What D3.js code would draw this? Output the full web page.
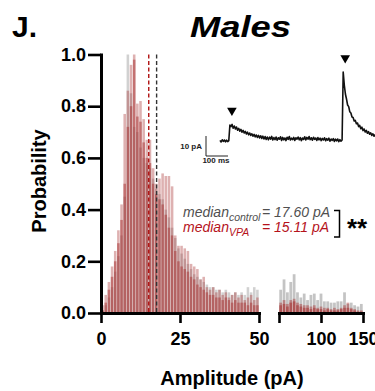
<!DOCTYPE html>
<html><head><meta charset="utf-8">
<script src="https://cdn.jsdelivr.net/npm/d3@7/dist/d3.min.js"></script>
<style>html,body{margin:0;padding:0;background:#fff;overflow:hidden}</style>
</head><body><svg id="c" width="375" height="391"></svg>
<script>
// ---------- DATA ----------
// Left panel: 1 pA bins from 0 to 50 pA (bin start values)
const leftBinWidth = 1;
const leftBinStarts = [0,1,2,3,4,5,6,7,8,9,10,11,12,13,14,15,16,17,18,19,20,21,22,23,24,25,26,27,28,29,30,31,32,33,34,35,36,37,38,39,40,41,42,43,44,45,46,47,48,49];
const controlLeft = [0.01,0.03,0.06,0.10,0.16,0.22,0.30,0.45,1.00,0.85,0.72,0.70,0.64,0.60,0.58,0.56,0.52,0.48,0.46,0.44,0.40,0.37,0.33,0.29,0.25,0.23,0.21,0.19,0.17,0.15,0.14,0.13,0.12,0.11,0.10,0.10,0.09,0.09,0.08,0.09,0.08,0.07,0.08,0.07,0.08,0.07,0.10,0.08,0.10,0.09];
const vpaLeftA = [0.03,0.07,0.12,0.18,0.24,0.32,0.42,0.77,0.86,0.96,1.00,0.81,0.82,0.75,0.67,0.67,0.56,0.50,0.52,0.54,0.53,0.53,0.49,0.30,0.26,0.26,0.25,0.24,0.19,0.18,0.17,0.13,0.14,0.10,0.09,0.10,0.08,0.09,0.07,0.08,0.06,0.07,0.08,0.06,0.07,0.05,0.06,0.07,0.05,0.06];
const vpaLeftB = [0.01,0.04,0.09,0.14,0.20,0.27,0.36,0.50,0.72,0.80,0.98,0.76,0.74,0.66,0.60,0.58,0.50,0.46,0.44,0.42,0.38,0.33,0.30,0.24,0.20,0.18,0.17,0.16,0.14,0.13,0.11,0.10,0.09,0.08,0.07,0.07,0.06,0.06,0.05,0.06,0.05,0.04,0.05,0.04,0.04,0.04,0.03,0.04,0.03,0.03];
// Right panel: 4 pA bins from 50 to 150 pA
const rightBinWidth = 4;
const rightBinStarts = [50,54,58,62,66,70,74,78,82,86,90,94,98,102,106,110,114,118,122,126,130,134,138,142,146];
const controlRight = [0.09,0.13,0.08,0.12,0.15,0.08,0.06,0.075,0.05,0.07,0.075,0.05,0.075,0.045,0.045,0.04,0.04,0.045,0.045,0.08,0.035,0.04,0.03,0.025,0.035];
const vpaRightA = [0.04,0.05,0.035,0.05,0.055,0.04,0.035,0.03,0.03,0.025,0.03,0.02,0.025,0.02,0.02,0.015,0.02,0.015,0.02,0.03,0.04,0.02,0.015,0.01,0.01];
const vpaRightB = [0.03,0.035,0.025,0.04,0.045,0.03,0.025,0.02,0.02,0.015,0.02,0.015,0.015,0.01,0.015,0.01,0.01,0.01,0.015,0.02,0.02,0.015,0.01,0.005,0.005];
// Medians (pA)
const medianControl = 17.60;
const medianVPA = 15.11;
// Tick values
const yTicks = [0,0.2,0.4,0.6,0.8,1.0];
const xTicksLeft = [0,25,50];
const xTicksRight = [50,100,150];
// Inset trace: amplitude (pA) sampled every 5 ms
const traceStep = 5;
const traceAmp = [
  0.3,-0.5,0.6,-0.2,0.5,-0.4,0.4,-0.3,0.2,
  8.0,7.2,8.3,6.4,7.5,6.0,7.0,5.4,6.3,4.9,5.8,4.4,5.3,4.0,4.8,3.5,4.4,3.1,4.0,2.8,3.6,2.4,3.3,2.1,3.0,1.8,2.8,1.5,2.6,1.3,2.4,1.0,
  2.2,0.8,2.0,0.6,1.9,0.9,2.3,0.5,1.7,0.7,2.0,0.4,1.6,0.9,2.1,0.3,1.8,0.6,1.5,0.2,1.9,0.8,2.2,0.5,1.4,0.7,1.8,0.3,1.6,0.9,2.0,0.6,1.7,0.2,1.5,0.8,2.1,0.5,1.8,0.9,2.2,0.7,1.6,0.4,1.9,0.8,1.5,0.3,1.7,0.6,1.4,0.2,1.3,0.5,1.6,0.1,1.2,0.4,1.4,-0.1,1.0,0.3,1.2,-0.2,0.9,0.1,1.0,-0.3,0.7,-0.1,0.5,
  34.5,28.0,23.5,21.0,18.0,17.2,14.6,14.0,12.0,11.8,10.0,10.3,8.6,9.0,7.2,7.8,6.1,6.9,5.2,6.0,4.5,5.3,3.9,4.7,3.4,4.1,2.8,3.6,2.4,3.1,2.0];
const eventTimes = [45, 560];
const eventPeaks = [8.3, 34.5];

// ---------- DRAW ----------
const FONT = "'Liberation Sans', Arial, Helvetica, sans-serif";
const svg = d3.select('#c').attr('font-family', FONT);

const x = d3.scaleLinear().domain([0,50]).range([101,259]);
const x2 = d3.scaleLinear().domain([50,150]).range([279,363]);
const y = d3.scaleLinear().domain([0,1]).range([313,54.5]);

function bars(starts, width, vals, sc, fill, op) {
  svg.append('g').selectAll('rect').data(vals).enter().append('rect')
    .attr('x', (d,i)=>sc(starts[i])+0.3)
    .attr('width', (d,i)=>sc(starts[i]+width)-sc(starts[i])-0.6)
    .attr('y', d=>y(d))
    .attr('height', d=>y(0)-y(d))
    .attr('fill', fill).attr('fill-opacity', op);
}
const GRAY = '#9a9a9a', RED = '#a83232';
bars(leftBinStarts, leftBinWidth, controlLeft, x, GRAY, 0.45);
bars(leftBinStarts, leftBinWidth, vpaLeftA, x, RED, 0.38);
bars(leftBinStarts, leftBinWidth, vpaLeftB, x, RED, 0.5);
bars(rightBinStarts, rightBinWidth, controlRight, x2, '#8a8a8a', 0.5);
bars(rightBinStarts, rightBinWidth, vpaRightA, x2, RED, 0.45);
bars(rightBinStarts, rightBinWidth, vpaRightB, x2, RED, 0.55);

// median dashed lines
[[medianVPA,'#b01010'],[medianControl,'#333']].forEach(([m,c])=>{
  svg.append('line').attr('x1',x(m)).attr('x2',x(m)).attr('y1',y(1)).attr('y2',y(0))
    .attr('stroke',c).attr('stroke-width',1.4).attr('stroke-dasharray','4,2.5');
});

// axes
function styleAxis(g){
  g.select('.domain').attr('stroke','#000').attr('stroke-width',3).attr('stroke-linecap','square');
  g.selectAll('.tick line').attr('stroke','#000').attr('stroke-width',2.6);
  g.selectAll('.tick text').attr('font-family',FONT).attr('font-size',18).attr('font-weight','bold').attr('fill','#000');
}
const gy = svg.append('g').attr('transform','translate(101,0)')
  .call(d3.axisLeft(y).tickValues(yTicks).tickFormat(d3.format('.1f')).tickSize(13).tickSizeOuter(0).tickPadding(2));
styleAxis(gy);
const gx = svg.append('g').attr('transform','translate(0,313)')
  .call(d3.axisBottom(x).tickValues(xTicksLeft).tickSize(10).tickSizeOuter(0).tickPadding(9));
styleAxis(gx);
const gx2 = svg.append('g').attr('transform','translate(0,313)')
  .call(d3.axisBottom(x2).tickValues(xTicksRight).tickFormat(d=>d===50?'':d).tickSize(10).tickSizeOuter(0).tickPadding(9));
styleAxis(gx2);

// titles
svg.append('text').attr('x',12).attr('y',37).attr('font-size',30).attr('font-weight','bold').text('J.');
svg.append('text').attr('x',190).attr('y',37).attr('font-size',30).attr('font-weight','bold').attr('font-style','italic')
  .attr('textLength',101).attr('lengthAdjust','spacingAndGlyphs').text('Males');
svg.append('text').attr('transform','translate(46,181) rotate(-90)').attr('text-anchor','middle')
  .attr('font-size',20).attr('font-weight','bold').text('Probability');
svg.append('text').attr('x',232).attr('y',385).attr('text-anchor','middle')
  .attr('font-size',20).attr('font-weight','bold').text('Amplitude (pA)');

// median annotations
function medText(yb, sub, val, col){
  const t = svg.append('text').attr('y',yb).attr('fill',col).attr('font-style','italic');
  t.append('tspan').attr('x',183).attr('font-size',14).text('median');
  t.append('tspan').attr('font-size',10.5).attr('dy',4).text(sub);
  t.append('tspan').attr('x',262).attr('dy',-4).attr('font-size',14).text('= ' + val.toFixed(2) + ' pA');
}
medText(217,'control',medianControl,'#505050');
medText(232,'VPA',medianVPA,'#b5121b');
svg.append('path').attr('d','M334,210.5H339.5V237H334').attr('fill','none').attr('stroke','#000').attr('stroke-width',1.5);
svg.append('text').attr('x',347).attr('y',237).attr('font-size',26).attr('font-weight','bold').text('**');

// inset trace
const xT = d3.scaleLinear().domain([0,100]).range([220,242]);
const yT = d3.scaleLinear().domain([0,10]).range([141,121]);
svg.append('path').datum(traceAmp)
  .attr('d', d3.line().x((d,i)=>xT(i*traceStep)).y(d=>yT(d)))
  .attr('fill','none').attr('stroke','#111').attr('stroke-width',1.6).attr('stroke-linejoin','round');
// scale bar
const sbX = 206, sbY = 156;
svg.append('path').attr('d',`M${sbX},${sbY-(yT(0)-yT(10))}V${sbY}H${sbX+(xT(100)-xT(0))}`)
  .attr('fill','none').attr('stroke','#222').attr('stroke-width',1);
svg.append('text').attr('x',202).attr('y',149).attr('text-anchor','end').attr('font-size',8).attr('font-weight','bold').attr('fill','#222').text('10 pA');
svg.append('text').attr('x',216).attr('y',163).attr('text-anchor','middle').attr('font-size',8).attr('font-weight','bold').attr('fill','#222').text('100 ms');
// event markers
eventTimes.forEach((t,i)=>{
  svg.append('path').attr('d', d3.symbol(d3.symbolTriangle, 40)())
    .attr('transform',`translate(${xT(t)+2},${yT(eventPeaks[i])-14}) rotate(180)`).attr('fill','#000');
});
</script></body></html>
